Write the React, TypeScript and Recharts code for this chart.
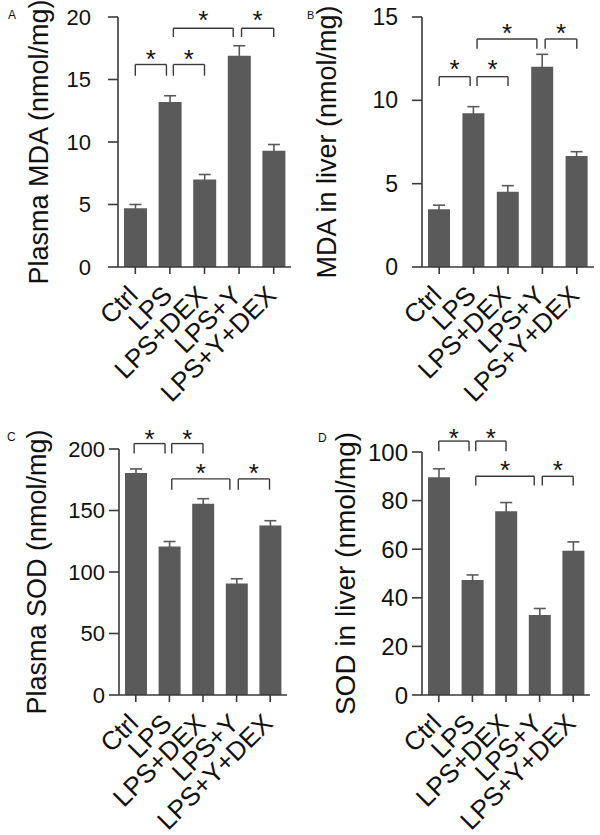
import React from 'react';
import { BarChart, Bar, XAxis, YAxis, ErrorBar, ReferenceLine, ReferenceDot } from 'recharts';

const FONT = '"Liberation Sans", Arial, Helvetica, sans-serif';
const BAR_COLOR = '#5a5a5a';
const AXIS_COLOR = '#3a3a3a';

const CATEGORIES = ['Ctrl', 'LPS', 'LPS+DEX', 'LPS+Y', 'LPS+Y+DEX'];

const PLASMA_MDA = [4.7, 13.2, 7.0, 16.9, 9.3];
const PLASMA_MDA_ERR = [0.3, 0.5, 0.4, 0.8, 0.5];
const LIVER_MDA = [3.46, 9.22, 4.52, 12.02, 6.66];
const LIVER_MDA_ERR = [0.25, 0.4, 0.36, 0.74, 0.26];
const PLASMA_SOD = [180.5, 120.8, 155.5, 90.6, 137.9];
const PLASMA_SOD_ERR = [3.3, 4.0, 4.1, 3.9, 3.8];
const LIVER_SOD = [89.6, 47.3, 75.6, 32.9, 59.4];
const LIVER_SOD_ERR = [3.5, 2.1, 3.6, 2.7, 3.6];

const TICKS_A = [0, 5, 10, 15, 20];
const TICKS_B = [0, 5, 10, 15];
const TICKS_C = [0, 50, 100, 150, 200];
const TICKS_D = [0, 20, 40, 60, 80, 100];

// significance brackets: [fromGroup, toGroup, topValue, legEndValue]
const BRACKETS_A = [[0, 0.9, 16.2, 15.3], [1.1, 2, 16.2, 15.3], [1.1, 2.83, 19.1, 18.4], [3.07, 4, 19.1, 18.4]];
const STARS_A = [17.1, 17.1, 20.2, 20.2];
const BRACKETS_B = [[0, 0.9, 11.42, 10.86], [1.1, 2, 11.42, 10.86], [1.1, 2.84, 13.68, 13.1], [3.08, 4, 13.68, 13.1]];
const STARS_B = [12.2, 12.2, 14.4, 14.4];
const BRACKETS_C = [[-0.05, 0.87, 204.4, 196.3], [1.07, 2, 204.4, 196.3], [1.07, 2.8, 175.7, 166.9], [3.05, 3.98, 175.7, 166.9]];
const STARS_C = [213, 213, 184.6, 184.6];
const BRACKETS_D = [[0, 0.9, 104.5, 100.3], [1.1, 2, 104.5, 100.3], [1.1, 2.84, 90.0, 86.2], [3.08, 4, 90.0, 86.2]];
const STARS_D = [107.9, 107.9, 94.8, 94.8];

type PanelProps = {
  letter: string;
  letterPos: [number, number];
  letterSize: number;
  left: number;
  top: number;
  width: number;
  height: number;
  plotTop: number;
  plotLeft: number;
  plotRight: number;
  plotBottom: number;
  values: number[];
  errors: number[];
  ticks: number[];
  yLabel: string;
  yLabelX: number;
  yLabelSize: number;
  tickFont: number;
  tickMargin: number;
  brackets: number[][];
  stars: number[];
  barSize: number;
};

const XTick = (props: any) => {
  const { x, y, payload } = props;
  const ax = x + 4;
  const ay = y + 21;
  return (
    <text
      x={ax}
      y={ay}
      transform={`rotate(-45, ${ax}, ${ay})`}
      textAnchor="end"
      fontSize={26}
      fontFamily={FONT}
      fill="#111"
    >
      {CATEGORIES[payload.value]}
    </text>
  );
};

function Panel(p: PanelProps) {
  const data = p.values.map((v, i) => ({ x: i, value: v, err: p.errors[i] }));
  const yAxisWidth = p.plotLeft;
  const marginRight = p.width - p.plotRight;
  const xAxisHeight = p.height - p.plotBottom - 2;
  const cy = p.plotTop + (p.plotBottom - p.plotTop) / 2;
  const renderLabel = () => (
    <text
      x={p.yLabelX}
      y={cy}
      transform={`rotate(-90, ${p.yLabelX}, ${cy})`}
      textAnchor="middle"
      fontSize={p.yLabelSize}
      fontFamily={FONT}
      fill="#111"
    >
      {p.yLabel}
    </text>
  );
  return (
    <div style={{ position: 'absolute', left: p.left, top: p.top, width: p.width, height: p.height }}>
      <div
        style={{
          position: 'absolute',
          left: p.letterPos[0],
          top: p.letterPos[1],
          fontFamily: FONT,
          fontSize: p.letterSize,
          lineHeight: 1,
          color: '#111',
        }}
      >
        {p.letter}
      </div>
      <BarChart
        width={p.width}
        height={p.height}
        data={data}
        margin={{ top: p.plotTop, right: marginRight, bottom: 2, left: 0 }}
        style={{ overflow: 'visible' }}
      >
        <XAxis
          dataKey="x"
          type="number"
          domain={[-0.5, 4.5]}
          ticks={[0, 1, 2, 3, 4]}
          interval={0}
          height={xAxisHeight}
          tickSize={7}
          tickMargin={2}
          axisLine={{ stroke: AXIS_COLOR, strokeWidth: 1.6 }}
          tickLine={{ stroke: AXIS_COLOR, strokeWidth: 1.6 }}
          tick={<XTick />}
        />
        <YAxis
          type="number"
          domain={[0, p.ticks[p.ticks.length - 1]]}
          ticks={p.ticks}
          interval={0}
          width={yAxisWidth}
          tickSize={10}
          tickMargin={p.tickMargin}
          axisLine={{ stroke: AXIS_COLOR, strokeWidth: 1.6 }}
          tickLine={{ stroke: AXIS_COLOR, strokeWidth: 1.6 }}
          tick={{ fontSize: p.tickFont, fontFamily: FONT, fill: '#111' }}
          label={renderLabel}
        />
        <Bar dataKey="value" fill={BAR_COLOR} barSize={p.barSize} isAnimationActive={false}>
          <ErrorBar dataKey="err" width={6} stroke={BAR_COLOR} strokeWidth={1.6} direction="y" />
        </Bar>
        {p.brackets.map((b, i) => (
          <ReferenceLine
            key={`h${i}`}
            segment={[{ x: b[0], y: b[2] }, { x: b[1], y: b[2] }]}
            stroke={AXIS_COLOR}
            strokeWidth={1.4}
            ifOverflow="visible"
          />
        ))}
        {p.brackets.map((b, i) => (
          <ReferenceLine
            key={`l${i}`}
            segment={[{ x: b[0], y: b[2] }, { x: b[0], y: b[3] }]}
            stroke={AXIS_COLOR}
            strokeWidth={1.4}
            ifOverflow="visible"
          />
        ))}
        {p.brackets.map((b, i) => (
          <ReferenceLine
            key={`r${i}`}
            segment={[{ x: b[1], y: b[2] }, { x: b[1], y: b[3] }]}
            stroke={AXIS_COLOR}
            strokeWidth={1.4}
            ifOverflow="visible"
          />
        ))}
        {p.brackets.map((b, i) => (
          <ReferenceDot
            key={`s${i}`}
            x={(b[0] + b[1]) / 2}
            y={p.stars[i]}
            r={0}
            ifOverflow="visible"
            shape={(sp: any) => (
              <text
                x={sp.cx}
                y={sp.cy + 14.5}
                textAnchor="middle"
                fontSize={26}
                fontFamily={FONT}
                fill="#111"
              >
                *
              </text>
            )}
          />
        ))}
      </BarChart>
    </div>
  );
}

export default function App() {
  return (
    <div style={{ position: 'absolute', left: 0, top: 0, width: 600, height: 835, background: '#fff' }}>
      <Panel
        letter="A"
        letterPos={[8, 9]}
        letterSize={12}
        left={0}
        top={0}
        width={300}
        height={420}
        plotTop={17}
        plotLeft={118}
        plotRight={291}
        plotBottom={267}
        values={PLASMA_MDA}
        errors={PLASMA_MDA_ERR}
        ticks={TICKS_A}
        yLabel="Plasma MDA (nmol/mg)"
        yLabelX={48}
        yLabelSize={27}
        tickFont={22}
        tickMargin={17}
        brackets={BRACKETS_A}
        stars={STARS_A}
        barSize={23}
      />
      <Panel
        letter="B"
        letterPos={[7, 10]}
        letterSize={11}
        left={300}
        top={0}
        width={300}
        height={420}
        plotTop={17}
        plotLeft={122}
        plotRight={294}
        plotBottom={267}
        values={LIVER_MDA}
        errors={LIVER_MDA_ERR}
        ticks={TICKS_B}
        yLabel="MDA in liver (nmol/mg)"
        yLabelX={36}
        yLabelSize={27}
        tickFont={23}
        tickMargin={14}
        brackets={BRACKETS_B}
        stars={STARS_B}
        barSize={22}
      />
      <Panel
        letter="C"
        letterPos={[7, 11]}
        letterSize={12}
        left={0}
        top={420}
        width={300}
        height={415}
        plotTop={29}
        plotLeft={119}
        plotRight={287}
        plotBottom={275}
        values={PLASMA_SOD}
        errors={PLASMA_SOD_ERR}
        ticks={TICKS_C}
        yLabel="Plasma SOD (nmol/mg)"
        yLabelX={46}
        yLabelSize={27}
        tickFont={22}
        tickMargin={4}
        brackets={BRACKETS_C}
        stars={STARS_C}
        barSize={22}
      />
      <Panel
        letter="D"
        letterPos={[18, 12]}
        letterSize={12}
        left={300}
        top={420}
        width={300}
        height={415}
        plotTop={32}
        plotLeft={122}
        plotRight={290}
        plotBottom={275}
        values={LIVER_SOD}
        errors={LIVER_SOD_ERR}
        ticks={TICKS_D}
        yLabel="SOD in liver (nmol/mg)"
        yLabelX={55}
        yLabelSize={28}
        tickFont={24}
        tickMargin={4}
        brackets={BRACKETS_D}
        stars={STARS_D}
        barSize={22}
      />
    </div>
  );
}
